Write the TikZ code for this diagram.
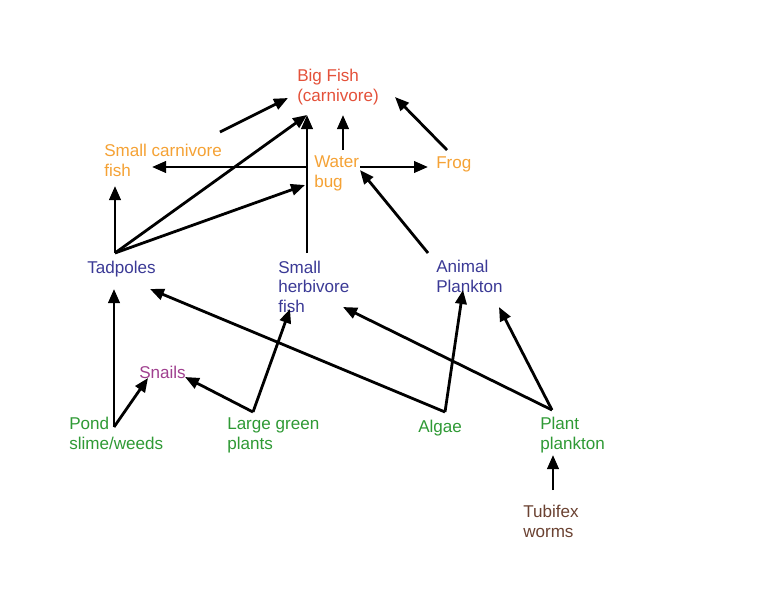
\documentclass[tikz,border=0pt]{standalone}
\usepackage{fontspec}
\setmainfont{Liberation Sans}
\usetikzlibrary{arrows.meta}
\definecolor{cRed}{HTML}{E4513A}
\definecolor{cOrange}{HTML}{F5A235}
\definecolor{cBlue}{HTML}{3B3A96}
\definecolor{cPurple}{HTML}{A0408F}
\definecolor{cGreen}{HTML}{2F9A35}
\definecolor{cBrown}{HTML}{6B4232}
\begin{document}
\begin{tikzpicture}[x=0.75pt,y=-0.75pt,
  lbl/.style={anchor=base west,inner sep=0pt,align=left,
    font=\fontsize{12.8}{14.8}\selectfont},
  link/.style={line width=2.1pt,-{Triangle[length=10.5pt,width=8.5pt]}}]
\useasboundingbox[fill=white] (0,0) rectangle (768,594);
% labels (anchored at the baseline of their last line)
\node[lbl,text=cRed]    (bigfish) at (297,101)   {Big Fish\\(carnivore)};
\node[lbl,text=cOrange] (scf)     at (104,176.5) {Small carnivore\\fish};
\node[lbl,text=cOrange] (water)   at (314,187)   {Water\\bug};
\node[lbl,text=cOrange] (frog)    at (436,168)   {Frog};
\node[lbl,text=cBlue]   (tad)     at (87,273)    {Tadpoles};
\node[lbl,text=cBlue]   (shf)     at (278,312.5) {Small\\herbivore\\fish};
\node[lbl,text=cBlue]   (anim)    at (436,292.5) {Animal\\Plankton};
\node[lbl,text=cPurple] (snails)  at (139,378)   {Snails};
\node[lbl,text=cGreen]  (pond)    at (69,449)    {Pond\\slime/weeds};
\node[lbl,text=cGreen]  (large)   at (227,449)   {Large green\\plants};
\node[lbl,text=cGreen]  (algae)   at (418,432)   {Algae};
\node[lbl,text=cGreen]  (plant)   at (540,449)   {Plant\\plankton};
\node[lbl,text=cBrown]  (tubi)    at (523,537)   {Tubifex\\worms};
% connector end points
\coordinate (bfA) at (288,98);
\coordinate (bfB) at (307,115);
\coordinate (bfC) at (343,115);
\coordinate (bfD) at (395,97);
\coordinate (scfOut) at (220,132);
\coordinate (scfIn) at (152,167);
\coordinate (scfIn2) at (115,186);
\coordinate (wbL) at (307,167);
\coordinate (wbR) at (360,167);
\coordinate (wbUp) at (343,150);
\coordinate (wbIn) at (305,185);
\coordinate (wbIn2) at (360,170);
\coordinate (frogIn) at (428,167);
\coordinate (frogOut) at (447,150);
\coordinate (tadOut) at (115,253);
\coordinate (tadIn) at (114,289);
\coordinate (tadIn2) at (150,289);
\coordinate (shfOut) at (307,253);
\coordinate (shfIn) at (290,309);
\coordinate (shfIn2) at (343,307);
\coordinate (animOut) at (428,253);
\coordinate (animIn) at (463,290);
\coordinate (animIn2) at (499,307);
\coordinate (snIn) at (148,378);
\coordinate (snIn2) at (185,377);
\coordinate (pondOut) at (114,427);
\coordinate (largeOut) at (253,412);
\coordinate (algOut) at (445,412);
\coordinate (plOut) at (552,410);
\coordinate (plIn) at (553,455);
\coordinate (tubOut) at (553,490);
% connectors
\draw[link] (scfOut) -- (bfA);
\draw[link] (tadOut) -- (bfB);
\draw[link] (shfOut) -- (bfB);
\draw[link] (wbUp) -- (bfC);
\draw[link] (frogOut) -- (bfD);
\draw[link] (wbL) -- (scfIn);
\draw[link] (wbR) -- (frogIn);
\draw[link] (tadOut) -- (wbIn);
\draw[link] (tadOut) -- (scfIn2);
\draw[link] (animOut) -- (wbIn2);
\draw[link] (pondOut) -- (tadIn);
\draw[link] (pondOut) -- (snIn);
\draw[link] (largeOut) -- (snIn2);
\draw[link] (largeOut) -- (shfIn);
\draw[link] (algOut) -- (animIn);
\draw[link] (algOut) -- (tadIn2);
\draw[link] (plOut) -- (animIn2);
\draw[link] (plOut) -- (shfIn2);
\draw[link] (tubOut) -- (plIn);
\end{tikzpicture}
\end{document}
